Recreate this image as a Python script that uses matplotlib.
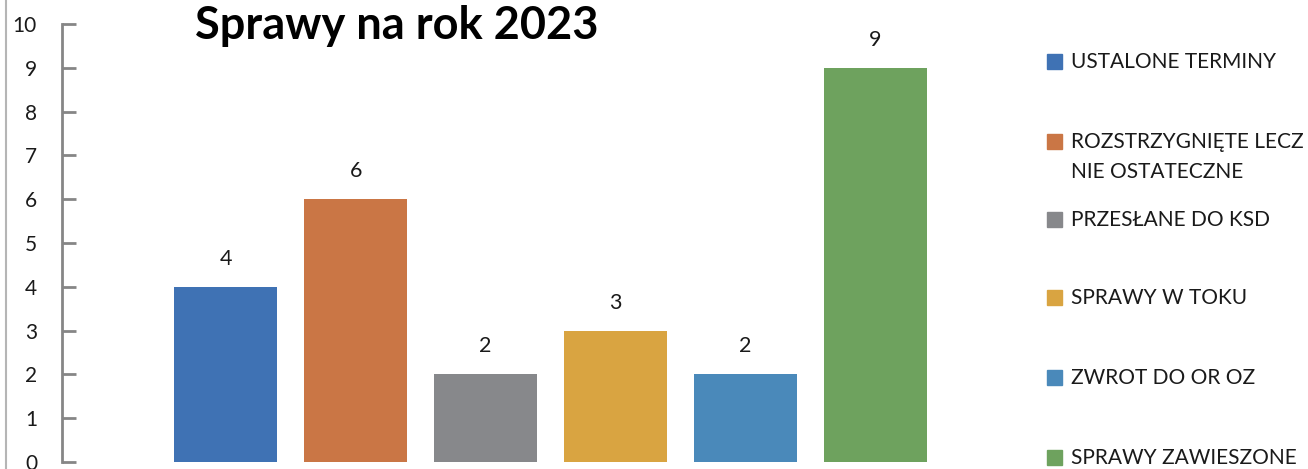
import matplotlib.pyplot as plt
from matplotlib.lines import Line2D

categories = ["USTALONE TERMINY", "ROZSTRZYGNIĘTE LECZ\nNIE OSTATECZNE", "PRZESŁANE DO KSD",
              "SPRAWY W TOKU", "ZWROT DO OR OZ", "SPRAWY ZAWIESZONE"]
values = [4, 6, 2, 3, 2, 9]
colors = ["#3F72B4", "#CA7645", "#87888B", "#D9A441", "#4A89BA", "#6EA25E"]
yticks = list(range(0, 11))

plt.rcParams['font.family'] = ['Lato', 'DejaVu Sans']

fig = plt.figure(figsize=(13.08, 4.69), dpi=100)
ax = fig.add_axes([62 / 1308, 1 - 462 / 469, (1039 - 62) / 1308, (462 - 24) / 469])

x = list(range(len(values)))
bars = ax.bar(x, values, width=0.79, color=colors)
for xi, v in zip(x, values):
    ax.annotate(str(v), (xi, v), xytext=(0, 13), textcoords='offset points',
                ha='center', va='bottom', fontsize=15.5, color='#1a1a1a')

ax.set_xlim(-1.26, 6.26)
ax.set_ylim(0, 10)
ax.set_yticks(yticks)
ax.set_xticks([])
for s in ['top', 'right', 'bottom']:
    ax.spines[s].set_visible(False)
ax.spines['left'].set_color('#868686')
ax.spines['left'].set_linewidth(2)
ax.tick_params(axis='y', direction='in', length=10, width=2, color='#868686',
               labelsize=15, pad=18, labelcolor='#1a1a1a')

fig.text(195 / 1308, 1 - 26 / 469, "Sprawy na rok 2023", fontsize=32.5, fontweight='bold',
         ha='left', va='center', color='black')

# legend, one entry per bar
legend_y = [62, 157, 220, 298, 378, 458]
for lbl, c, yy in zip(categories, colors, legend_y):
    sq_y = 142 if "\n" in lbl else yy
    fig.patches.append(plt.Rectangle((1047 / 1308, 1 - (sq_y + 7) / 469), 15 / 1308, 15 / 469,
                                     transform=fig.transFigure, color=c))
    fig.text(1071 / 1308, 1 - yy / 469, lbl, fontsize=15, ha='left', va='center',
             linespacing=1.65, color='#1a1a1a')

# thin border line at the left edge
fig.add_artist(Line2D([6 / 1308, 6 / 1308], [0, 1], transform=fig.transFigure,
                      color='#b5b5b5', linewidth=1.5))

plt.savefig('out.png', dpi=100)
